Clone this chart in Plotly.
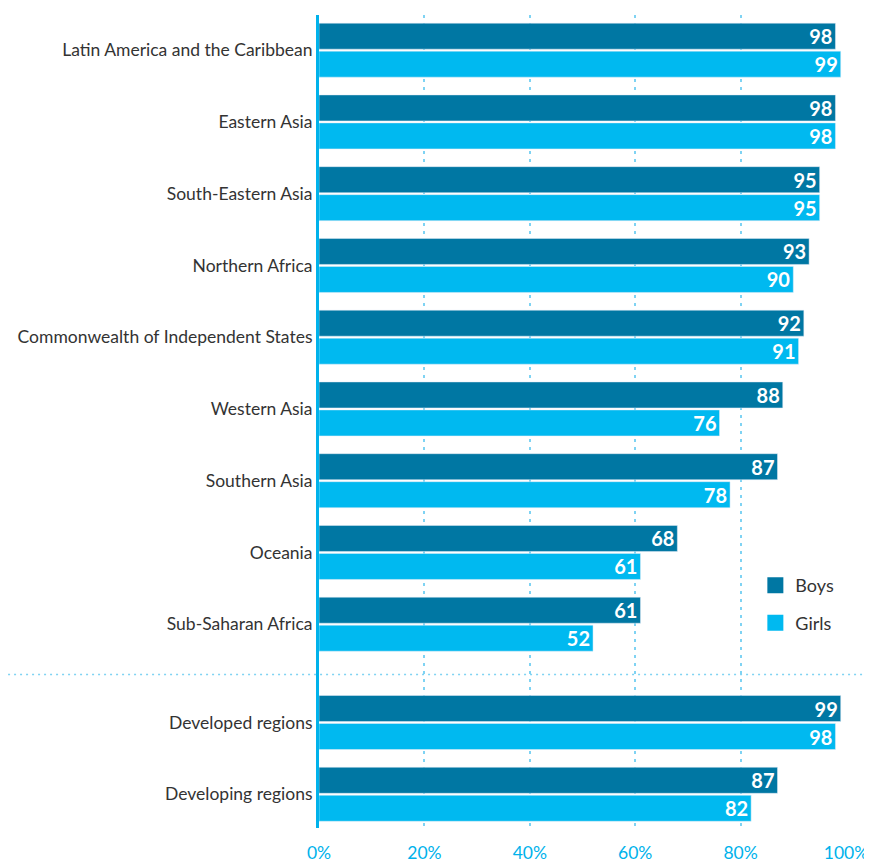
import plotly.graph_objects as go

regions = ["Latin America and the Caribbean", "Eastern Asia", "South-Eastern Asia",
           "Northern Africa", "Commonwealth of Independent States", "Western Asia",
           "Southern Asia", "Oceania", "Sub-Saharan Africa",
           "Developed regions", "Developing regions"]
boys = [98, 98, 95, 93, 92, 88, 87, 68, 61, 99, 87]
girls = [99, 98, 95, 90, 91, 76, 78, 61, 52, 98, 82]
tick_vals = [0, 20, 40, 60, 80, 100]
tick_text = ["0%", "20%", "40%", "60%", "80%", "100%"]

# y positions: extra gap before the aggregate groups
gap_after = 8
extra = 0.37
ypos = [i + (extra if i > gap_after else 0) for i in range(len(regions))]
sep_y = gap_after + 0.70

BOYS_C = "#0077A3"
GIRLS_C = "#00B9F0"
GRID_C = "#7FD3F3"
FONT = "Lato"

fig = go.Figure()
for name, vals, col in [("Boys", boys, BOYS_C), ("Girls", girls, GIRLS_C)]:
    fig.add_trace(go.Bar(
        y=ypos, x=vals, orientation="h", name=name, marker_color=col,
        text=[str(v) for v in vals], textposition="inside", insidetextanchor="end",
        textangle=0, showlegend=False,
        textfont=dict(color="white", size=20, family=FONT, weight="bold")))
# legend entries with larger square swatches
for name, col in [("Boys", BOYS_C), ("Girls", GIRLS_C)]:
    fig.add_trace(go.Scatter(
        x=[None], y=[None], mode="markers", name=name, legendgroup=name,
        marker=dict(symbol="square", size=16, color=col, line=dict(width=0))))

fig.add_shape(type="line", xref="paper", yref="y",
              x0=-0.59, x1=1.06, y0=sep_y, y1=sep_y,
              line=dict(color=GRID_C, width=1.5, dash="2px,4px"))

# page body has an 8px margin: the figure is sized to fill the rest of the window
fig.update_layout(
    width=864, height=855,
    margin=dict(l=311, r=26, t=7, b=35, autoexpand=False),
    paper_bgcolor="white", plot_bgcolor="white",
    barmode="group", bargap=0.22, bargroupgap=0.07,
    font=dict(family=FONT, color="#333333", size=16),
    uniformtext=dict(minsize=20, mode="show"),
    legend=dict(x=0.828, y=0.321, xanchor="left", yanchor="top",
                font=dict(size=18, color="#333333", family=FONT),
                bgcolor="rgba(0,0,0,0)", itemwidth=30, itemsizing="trace",
                tracegroupgap=11),
    xaxis=dict(range=[0, 100], tickvals=tick_vals, ticktext=tick_text,
               showgrid=True, gridcolor=GRID_C, gridwidth=1.5, griddash="3px,5px",
               zeroline=False, showline=False, ticks="", automargin=False,
               ticklabelstandoff=12,
               tickfont=dict(color="#00B2EB", size=17.5, family=FONT)),
    yaxis=dict(range=[ypos[-1] + 0.47, -0.49], tickvals=ypos, ticktext=regions,
               showgrid=False, zeroline=False, showline=True,
               linecolor="#00B2EB", linewidth=3, ticks="", automargin=False,
               ticklabelstandoff=0,
               tickfont=dict(color="#333333", size=17.5, family=FONT)),
)

fig.write_html("out.html")
